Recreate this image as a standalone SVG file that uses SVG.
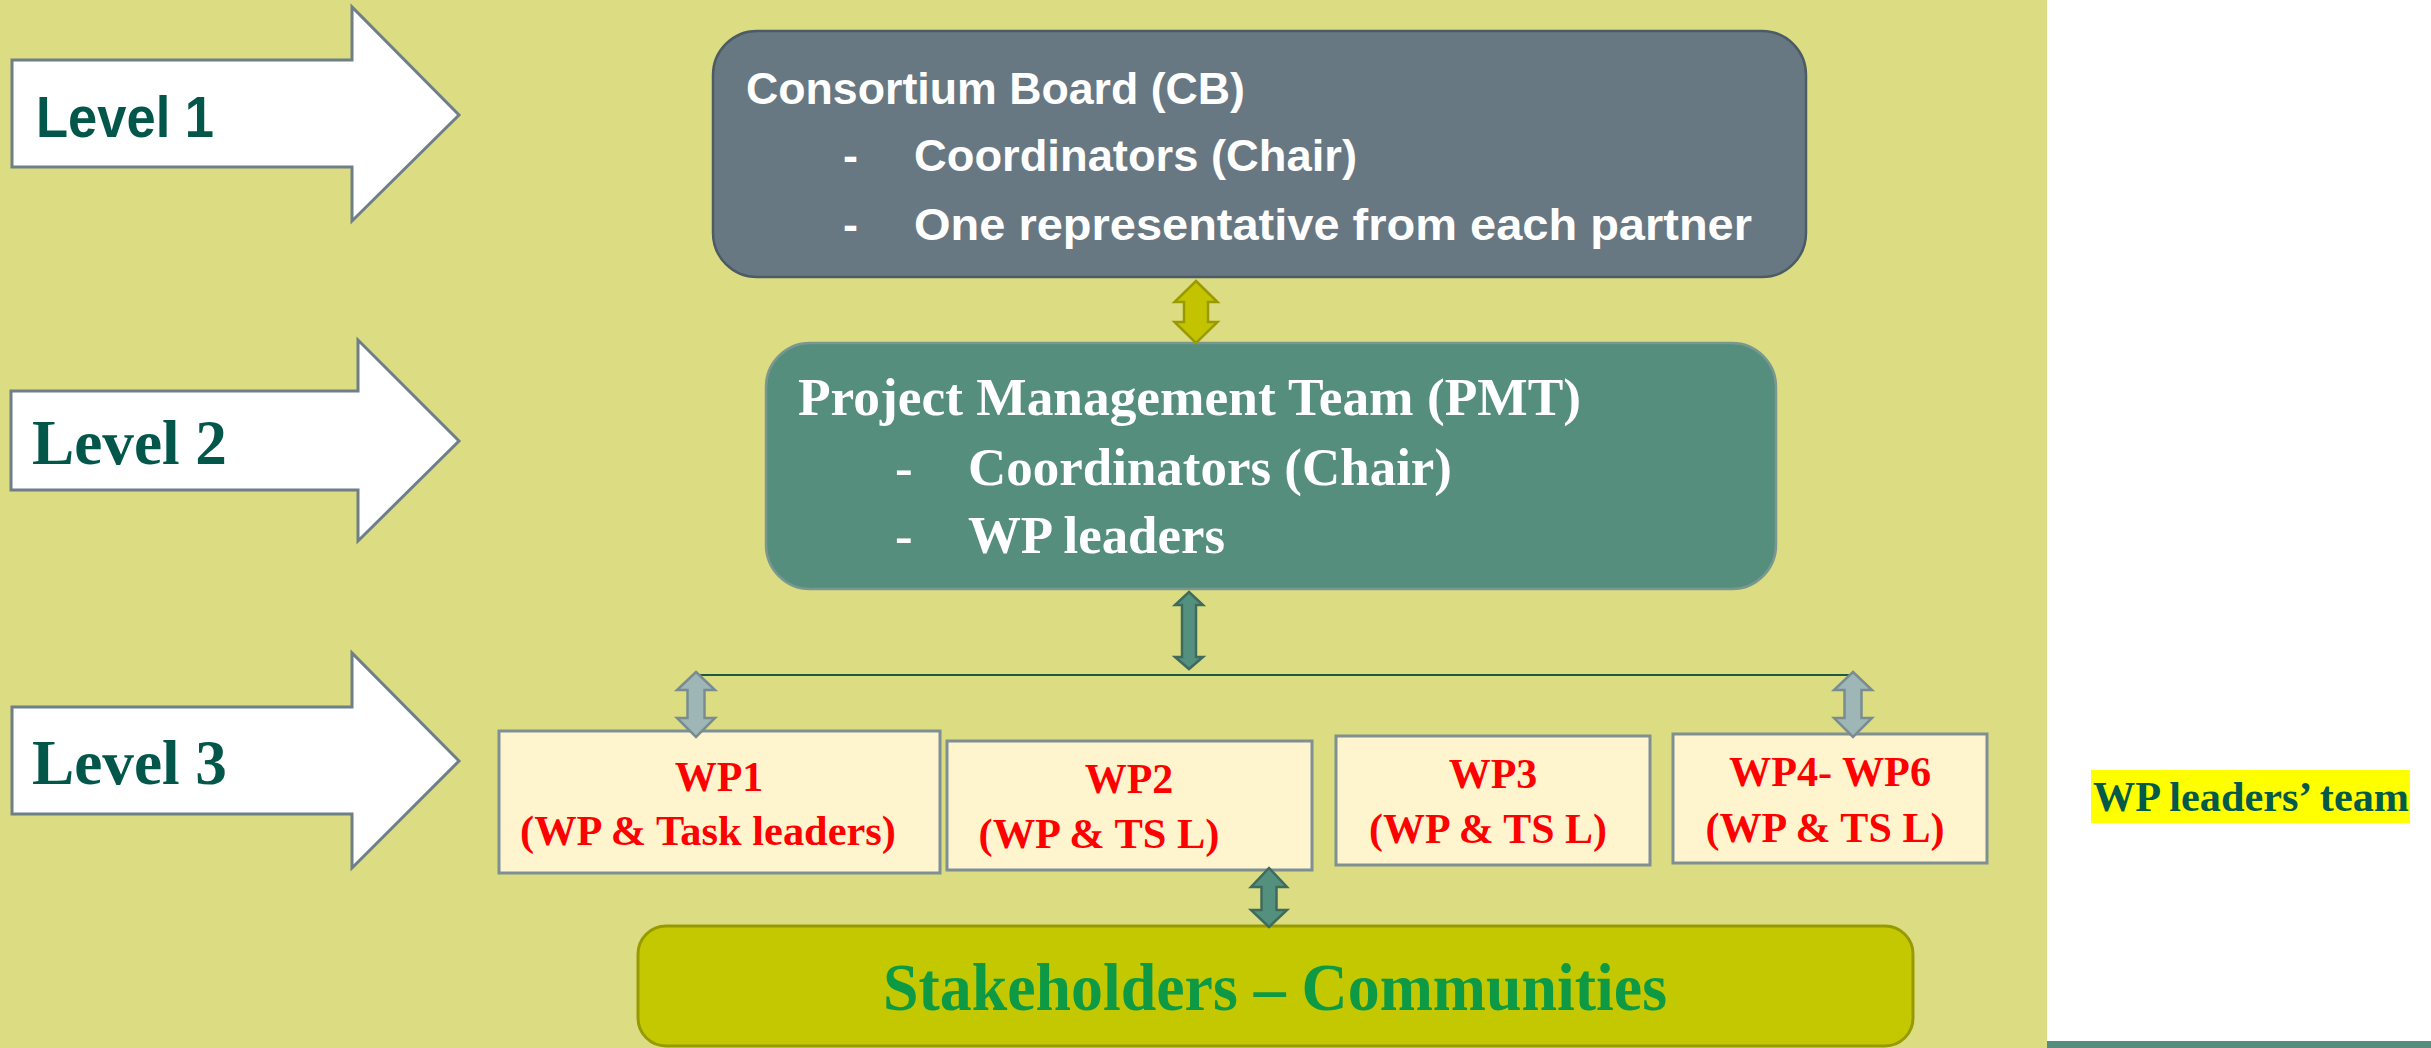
<svg xmlns="http://www.w3.org/2000/svg" width="2431" height="1048" viewBox="0 0 2431 1048">
<style>
.lvl{fill:#fff;stroke:#6e7f88;stroke-width:3}
.sans{font-family:"Liberation Sans",Arial,sans-serif;font-weight:bold}
.serif{font-family:"Liberation Serif","Times New Roman",serif;font-weight:bold}
.lvltxt{fill:#03574a}
.wp{fill:#fef5cf;stroke:#7f8f94;stroke-width:3}
.wptxt{fill:#ff0000;font-size:42px;text-anchor:middle}
.teal{fill:#54907e;stroke:#3e6b5e;stroke-width:2.5}
.grey{fill:#9fb6b6;stroke:#7a8c92;stroke-width:2.5}
.olive{fill:#c3c300;stroke:#9a9a00;stroke-width:2.5}
</style>
<rect x="0" y="0" width="2431" height="1048" fill="#ffffff"/>
<rect x="0" y="0" width="2047" height="1048" fill="#dcdd82"/>
<rect x="2047" y="1041" width="384" height="7" fill="#558e7c"/>

<g id="level1">
<path class="lvl" d="M12,60 L352,60 L352,7 L459,115 L352,221 L352,167 L12,167 Z"/>
<text class="sans lvltxt" x="36" y="137" font-size="57" textLength="178" lengthAdjust="spacingAndGlyphs">Level 1</text>
</g>
<g id="level2">
<path class="lvl" d="M11,391 L358,391 L358,340 L459,441 L358,541 L358,490 L11,490 Z"/>
<text class="serif lvltxt" x="32" y="464" font-size="64" textLength="195" lengthAdjust="spacingAndGlyphs">Level 2</text>
</g>
<g id="level3">
<path class="lvl" d="M12,707 L352,707 L352,653 L459,761 L352,868 L352,814 L12,814 Z"/>
<text class="serif lvltxt" x="32" y="784" font-size="64" textLength="195" lengthAdjust="spacingAndGlyphs">Level 3</text>
</g>

<g id="cb">
<rect x="713" y="31" width="1093" height="246" rx="44" fill="#677883" stroke="#4c5b64" stroke-width="2.5"/>
<g class="sans" fill="#ffffff">
<text x="746" y="104" font-size="45" textLength="499" lengthAdjust="spacingAndGlyphs">Consortium Board (CB)</text>
<text x="843" y="171" font-size="45">-</text>
<text x="914" y="171" font-size="45" textLength="443" lengthAdjust="spacingAndGlyphs">Coordinators (Chair)</text>
<text x="843" y="240" font-size="45">-</text>
<text x="914" y="240" font-size="45" textLength="838" lengthAdjust="spacingAndGlyphs">One representative from each partner</text>
</g>
</g>

<g id="pmt">
<rect x="766" y="343" width="1010" height="246" rx="44" fill="#558e7c" stroke="#7a9890" stroke-width="2.5"/>
<g class="serif" fill="#ffffff">
<text x="798" y="415" font-size="53" textLength="783" lengthAdjust="spacingAndGlyphs">Project Management Team (PMT)</text>
<text x="895" y="485" font-size="53">-</text>
<text x="968" y="485" font-size="53" textLength="484" lengthAdjust="spacingAndGlyphs">Coordinators (Chair)</text>
<text x="895" y="553" font-size="53">-</text>
<text x="968" y="553" font-size="53" textLength="257" lengthAdjust="spacingAndGlyphs">WP leaders</text>
</g>
</g>

<g id="wp1">
<rect class="wp" x="499" y="731" width="441" height="142"/>
<text class="serif wptxt" x="719" y="791">WP1</text>
<text class="serif wptxt" x="708" y="845" textLength="376" lengthAdjust="spacingAndGlyphs">(WP &amp; Task leaders)</text>
</g>
<g id="wp2">
<rect class="wp" x="947" y="741" width="365" height="129"/>
<text class="serif wptxt" x="1129" y="793">WP2</text>
<text class="serif wptxt" x="1099" y="848" textLength="241" lengthAdjust="spacingAndGlyphs">(WP &amp; TS L)</text>
</g>
<g id="wp3">
<rect class="wp" x="1336" y="736" width="314" height="129"/>
<text class="serif wptxt" x="1493" y="788">WP3</text>
<text class="serif wptxt" x="1488" y="843" textLength="238" lengthAdjust="spacingAndGlyphs">(WP &amp; TS L)</text>
</g>
<g id="wp4-6">
<rect class="wp" x="1673" y="734" width="314" height="129"/>
<text class="serif wptxt" x="1830" y="786" textLength="202" lengthAdjust="spacingAndGlyphs">WP4- WP6</text>
<text class="serif wptxt" x="1825" y="842" textLength="239" lengthAdjust="spacingAndGlyphs">(WP &amp; TS L)</text>
</g>

<g id="stakeholders">
<rect x="638" y="926" width="1275" height="120" rx="28" fill="#c4c800" stroke="#979a00" stroke-width="3"/>
<text class="serif" x="883" y="1010" font-size="67" fill="#0e9a45" textLength="784" lengthAdjust="spacingAndGlyphs">Stakeholders – Communities</text>
</g>

<g id="wp-leaders-team">
<rect x="2091" y="770" width="319" height="53" fill="#ffff00"/>
<text class="serif" x="2093" y="811" font-size="42" fill="#045a4a" textLength="316" lengthAdjust="spacingAndGlyphs">WP leaders’ team</text>
</g>

<g id="connectors">
<line x1="696" y1="675" x2="1853" y2="675" stroke="#1f5a3f" stroke-width="2"/>
<path class="olive" d="M1196,281 L1217.5,302 L1208,302 L1208,322 L1217.5,322 L1196,343 L1174.5,322 L1184,322 L1184,302 L1174.5,302 Z"/>
<path class="teal" d="M1189,592 L1203,605 L1196,605 L1196,657 L1203,657 L1189,669 L1175,657 L1182,657 L1182,605 L1175,605 Z"/>
<path class="grey" d="M696,672 L715,690 L704.5,690 L704.5,718 L715,718 L696,737 L677,718 L687.5,718 L687.5,690 L677,690 Z"/>
<path class="grey" d="M1853,672 L1872,690 L1861.5,690 L1861.5,718 L1872,718 L1853,737 L1834,718 L1844.5,718 L1844.5,690 L1834,690 Z"/>
<path class="teal" d="M1269,868 L1287,887 L1276.5,887 L1276.5,910 L1287,910 L1269,927 L1251,910 L1261.5,910 L1261.5,887 L1251,887 Z"/>
</g>
</svg>
